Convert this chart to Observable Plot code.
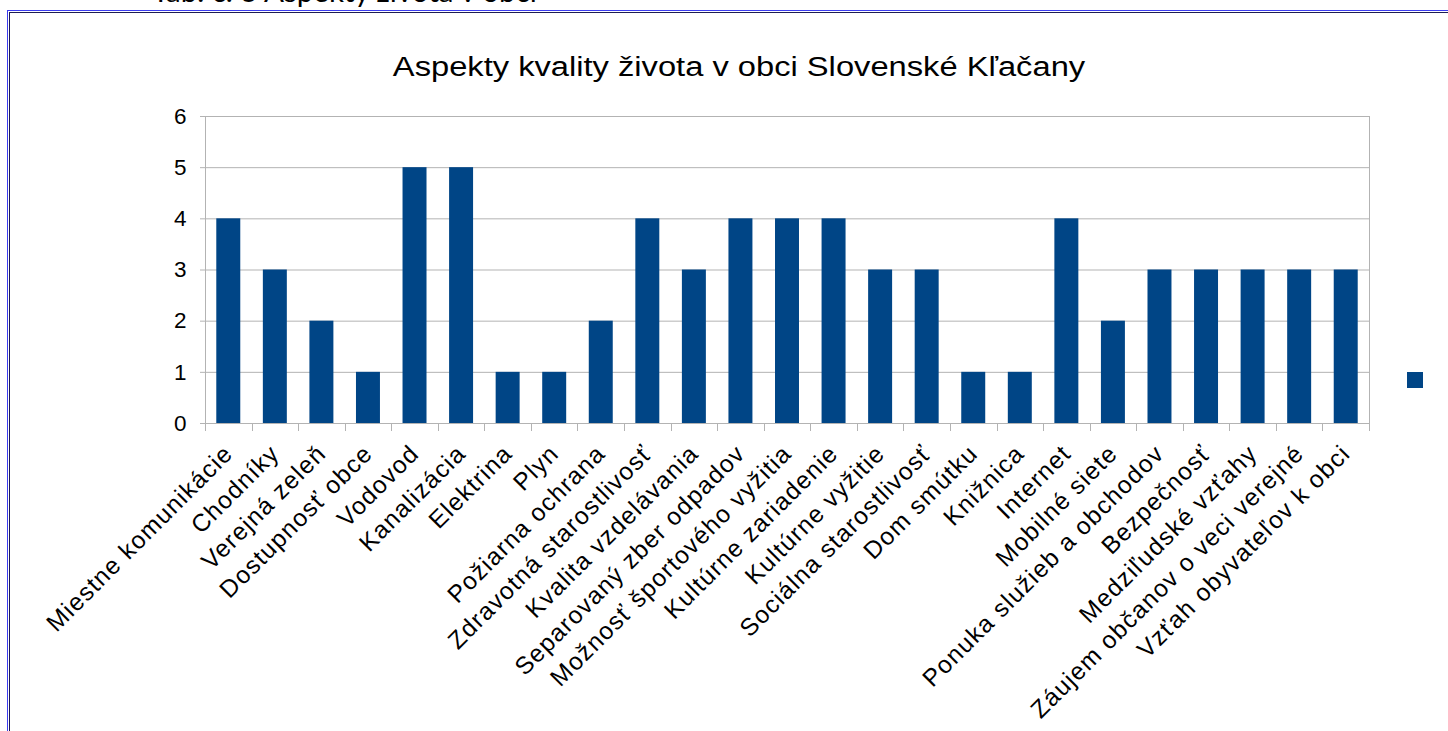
<!DOCTYPE html>
<html>
<head>
<meta charset="utf-8">
<script src="https://cdn.jsdelivr.net/npm/d3@7"></script>
<script src="https://cdn.jsdelivr.net/npm/@observablehq/plot@0.6"></script>
<style>
  html, body { margin: 0; padding: 0; background: #fff; }
  #wrap { position: relative; width: 1448px; height: 731px; overflow: hidden; background: #fff; }
  #frameOuter { position: absolute; left: 7px; top: 10px; width: 1600px; height: 900px; border-left: 1px solid #3b3bf0; border-top: 1px solid #3b3bf0; }
  #frameInner { position: absolute; left: 9px; top: 12px; width: 1600px; height: 900px; border-left: 1px solid #1c1c55; border-top: 1px solid #1c1c55; }
  #caption { position: absolute; left: 152px; top: -24px; font-family: Lato, "Open Sans", sans-serif; font-size: 29.5px; line-height: 1; color: #000; white-space: nowrap; }
  #title { position: absolute; left: 739px; top: 54px; transform: translateX(-50%) scaleX(1.21); font-family: "Liberation Sans", Arial, sans-serif; font-size: 27px; line-height: 1; color: #000; white-space: nowrap; }
  #chart { position: absolute; left: 0; top: 0; }
  #chart g[aria-label="x-axis tick label"] text { letter-spacing: 1.2px; }
  #legend { position: absolute; left: 1407px; top: 372px; }
  #legend .swatch { width: 16px; height: 16px; }
</style>
</head>
<body>
<div id="wrap">
  <div id="frameOuter"></div>
  <div id="frameInner"></div>
  <div id="caption">Tab. č. 3 Aspekty života v obci</div>
  <div id="title">Aspekty kvality života v obci Slovenské Kľačany</div>
  <div id="chart"></div>
  <div id="legend"><div class="swatch"></div></div>
</div>
<script>
const categories = [
  "Miestne komunikácie", "Chodníky", "Verejná zeleň", "Dostupnosť obce", "Vodovod",
  "Kanalizácia", "Elektrina", "Plyn", "Požiarna ochrana", "Zdravotná starostlivosť",
  "Kvalita vzdelávania", "Separovaný zber odpadov", "Možnosť športového vyžitia", "Kultúrne zariadenie", "Kultúrne vyžitie",
  "Sociálna starostlivosť", "Dom smútku", "Knižnica", "Internet", "Mobilné siete",
  "Ponuka služieb a obchodov", "Bezpečnosť", "Medziľudské vzťahy", "Záujem občanov o veci verejné", "Vzťah obyvateľov k obci"
];
const values = [4, 3, 2, 1, 5, 5, 1, 1, 2, 4, 3, 4, 4, 4, 3, 3, 1, 1, 4, 2, 3, 3, 3, 3, 3];
const yTicks = [0, 1, 2, 3, 4, 5, 6];
const barColor = "#004586";
const gridColor = "#b3b3b3";

document.querySelector("#legend .swatch").style.background = barColor;

const data = categories.map((c, i) => ({name: c, value: values[i]}));

const chart = Plot.plot({
  width: 1448,
  height: 731,
  marginLeft: 205,
  marginRight: 79,
  marginTop: 116,
  marginBottom: 308,
  style: {fontFamily: "'Liberation Sans', Arial, sans-serif", color: "#000", background: "transparent", overflow: "visible"},
  x: {domain: categories, paddingInner: 0.485, paddingOuter: 0.2425, round: false, label: null},
  y: {domain: [0, 6], label: null},
  marks: [
    Plot.gridY(yTicks, {stroke: gridColor, strokeOpacity: 1}),
    Plot.barY(data, {x: "name", y: "value", fill: barColor}),
    Plot.ruleY([0], {stroke: gridColor, strokeOpacity: 1}),
    Plot.axisY(yTicks, {tickSize: 5, tickPadding: 14, stroke: gridColor, fontSize: 22.5, label: null, fill: "#000", tickFormat: d3.format("d")}),
    Plot.axisX({tickRotate: -45, tickSize: 0, tickPadding: 26, dx: 0, fontSize: 24.5, label: null, fill: "#000"})
  ]
});

document.getElementById("chart").appendChild(chart);

// category boundary ticks and side lines, positioned from Plot's own scales
const xs = chart.scale("x");
const ys = chart.scale("y");
const step = xs.step ?? (xs.apply(categories[1]) - xs.apply(categories[0]));
const bw = xs.bandwidth;
const gap = (step - bw) / 2;
const y0 = ys.apply(0), yTop = ys.apply(6);
const bounds = categories.map(c => xs.apply(c) - gap);
bounds.push(bounds[bounds.length - 1] + step);
const g = d3.select(chart).append("g").attr("stroke", gridColor).attr("stroke-width", 1);
bounds.forEach((bx, i) => {
  const isEdge = i === 0 || i === bounds.length - 1;
  g.append("line")
    .attr("x1", Math.round(bx) + 0.5).attr("x2", Math.round(bx) + 0.5)
    .attr("y1", isEdge ? yTop : y0).attr("y2", y0 + 8);
});
</script>
</body>
</html>
